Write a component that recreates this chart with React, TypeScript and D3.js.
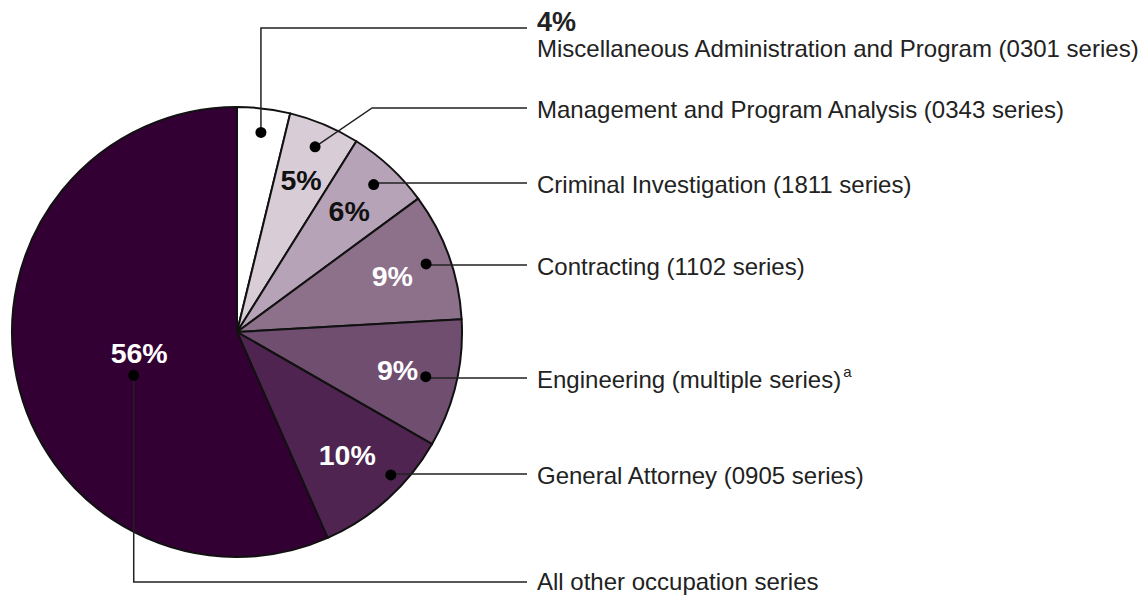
import React from 'react';
import * as d3 from 'd3';

// shares
const categories = [
  'Miscellaneous Administration and Program (0301 series)',
  'Management and Program Analysis (0343 series)',
  'Criminal Investigation (1811 series)',
  'Contracting (1102 series)',
  'Engineering (multiple series)',
  'General Attorney (0905 series)',
  'All other occupation series',
];
const shares = [3.8, 5.1, 6.0, 9.2, 9.2, 10.1, 56.6];
const shareLabels = ['4%', '5%', '6%', '9%', '9%', '10%', '56%'];
const footnotes = ['', '', '', '', 'a', '', ''];

const colors = ['#ffffff', '#d8cdd7', '#b7a3b7', '#8d718b', '#6f4e6f', '#4f2450', '#330033'];
const labelColors = ['#111', '#111', '#111', '#fff', '#fff', '#fff', '#fff'];

const width = 1142;
const height = 596;
const cx = 237;
const cy = 332;
const radius = 225;
const textX = 537;
const lineEndX = 527;
// label rows in the legend column
const rowY = [28, 108, 183, 265, 378, 474, 582];

export default function App() {
  const pie = d3.pie<number>().sort(null).value(d => d)(shares);
  const arc = d3.arc<d3.PieArcDatum<number>>().innerRadius(0).outerRadius(radius);

  const polar = (a: number, r: number): [number, number] => [
    Math.sin(a) * r,
    -Math.cos(a) * r,
  ];

  return (
    <svg width={width} height={height} style={{ position: 'absolute', left: 0, top: 0 }}
      fontFamily="'Liberation Sans', Arial, sans-serif">
      <g transform={`translate(${cx},${cy})`}>
        {pie.map((d, i) => (
          <path key={i} d={arc(d) || ''} fill={colors[i]} stroke="#111" strokeWidth={2} strokeLinejoin="round" />
        ))}
        {pie.map((d, i) => {
          if (i === 0) return null;
          const mid = (d.startAngle + d.endAngle) / 2;
          const last = i === pie.length - 1;
          const [x, y] = polar(mid, last ? 100 : 165);
          return (
            <text key={'l' + i} x={x} y={y} dy="0.35em" textAnchor="middle" fontWeight="bold"
              fontSize={28.5} fill={labelColors[i]}>{shareLabels[i]}</text>
          );
        })}
      </g>
      {pie.map((d, i) => {
        const mid = (d.startAngle + d.endAngle) / 2;
        const last = i === pie.length - 1;
        const r = last ? 112 : i === 5 ? 210 : i === 4 ? 194 : 201;
        const a = last ? mid - 0.19 : i === 5 ? mid - 0.09 : mid;
        const [px, py] = polar(a, r);
        const dx = cx + px;
        const dy = cy + py;
        const ly = rowY[i];
        let pts: [number, number][];
        if (i === 1) pts = [[dx, dy], [dx + 57, ly], [lineEndX, ly]];
        else pts = [[dx, dy], [dx, ly], [lineEndX, ly]];
        return (
          <g key={'c' + i}>
            <path d={d3.line()(pts) || ''} fill="none" stroke="#222" strokeWidth={1.5} />
            <circle cx={dx} cy={dy} r={5.5} fill="#000" />
          </g>
        );
      })}
      {categories.map((c, i) => {
        const y = i === 0 ? 49 : i === categories.length - 1 ? rowY[i] : rowY[i] + 2;
        return (
          <text key={'t' + i} x={textX} y={y} dy="0.35em" fontSize={24} fill="#222">
            {c}
            {footnotes[i] && <tspan fontSize={15} dy="-0.75em" dx="2">{footnotes[i]}</tspan>}
          </text>
        );
      })}
      <text x={textX} y={22} dy="0.35em" fontSize={27} fontWeight="bold" fill="#222">{shareLabels[0]}</text>
    </svg>
  );
}
